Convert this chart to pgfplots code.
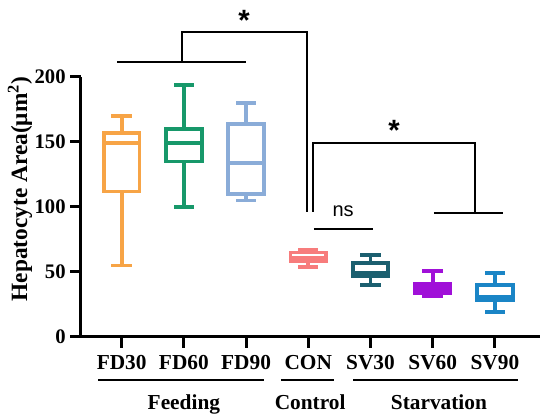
\documentclass[border=0pt]{standalone}
\usepackage{fontspec}
\setmainfont{Liberation Serif}
\newfontfamily\arial{Liberation Sans}
\usepackage{pgfplots}
\pgfplotsset{compat=1.18}

\definecolor{cFDa}{HTML}{F7A446}
\definecolor{cFDb}{HTML}{17986A}
\definecolor{cFDc}{HTML}{8AACD8}
\definecolor{cCON}{HTML}{F77C7C}
\definecolor{cSVa}{HTML}{1B5F6F}
\definecolor{cSVb}{HTML}{A010D8}
\definecolor{cSVc}{HTML}{1A85C6}

\pgfplotsset{bx/.style={draw=#1, line width=2.8pt, line join=miter, line cap=rect, mark=none}}

\begin{document}
\begin{tikzpicture}
% 1px of the reference = 0.75pt; axis box lower left at (0,0)
\useasboundingbox (-60.75pt,-62.25pt) rectangle (351.75pt,252.75pt);
\begin{axis}[
    at={(0,0)}, anchor=south west,
    scale only axis,
    width=344.25pt, height=195pt,
    xmin=0.346, xmax=7.725,
    ymin=0, ymax=200,
    axis x line=bottom, axis y line=left,
    axis line style={line width=2.25pt, -},
    xtick={1,2,3,4,5,6,7},
    xticklabels={FD30,FD60,FD90,CON,SV30,SV60,SV90},
    ytick={0,50,100,150,200},
    tick align=outside,
    major tick length=8pt,
    tick style={line width=2.25pt, black},
    xticklabel style={font=\fontsize{16}{18}\selectfont\bfseries, yshift=-2pt},
    yticklabel style={font=\fontsize{15.5}{18}\selectfont\bfseries},
    /pgf/number format/assume math mode=true,
    clip=false,
    unbounded coords=jump,
]
% each box: box outline, median, upper whisker, upper cap, lower whisker, lower cap
% FD30
\addplot[bx=cFDa] coordinates {(0.713,112)(1.287,112)(1.287,157)(0.713,157)(0.713,112) (1,nan) (0.713,149)(1.287,149) (1,nan) (1,157)(1,170) (1,nan) (0.866,170)(1.134,170) (1,nan) (1,112)(1,55) (1,nan) (0.866,55)(1.134,55)};
% FD60
\addplot[bx=cFDb] coordinates {(1.713,135)(2.287,135)(2.287,160)(1.713,160)(1.713,135) (2,nan) (1.713,149)(2.287,149) (2,nan) (2,160)(2,194) (2,nan) (1.866,194)(2.134,194) (2,nan) (2,135)(2,100) (2,nan) (1.866,100)(2.134,100)};
% FD90
\addplot[bx=cFDc] coordinates {(2.713,110)(3.287,110)(3.287,164)(2.713,164)(2.713,110) (3,nan) (2.713,134)(3.287,134) (3,nan) (3,164)(3,180) (3,nan) (2.866,180)(3.134,180) (3,nan) (3,110)(3,105) (3,nan) (2.866,105)(3.134,105)};
% CON
\addplot[bx=cCON] coordinates {(3.713,58.5)(4.287,58.5)(4.287,65)(3.713,65)(3.713,58.5) (4,nan) (3.713,60.5)(4.287,60.5) (4,nan) (4,65)(4,67) (4,nan) (3.866,67)(4.134,67) (4,nan) (4,58.5)(4,54) (4,nan) (3.866,54)(4.134,54)};
% SV30
\addplot[bx=cSVa] coordinates {(4.713,46.5)(5.287,46.5)(5.287,57)(4.713,57)(4.713,46.5) (5,nan) (4.713,49)(5.287,49) (5,nan) (5,57)(5,63) (5,nan) (4.866,63)(5.134,63) (5,nan) (5,46.5)(5,40) (5,nan) (4.866,40)(5.134,40)};
% SV60 (box filled)
\addplot[fill=cSVb, draw=none, mark=none] coordinates {(5.713,34)(6.287,34)(6.287,40.5)(5.713,40.5)(5.713,34)};
\addplot[bx=cSVb] coordinates {(5.713,34)(6.287,34)(6.287,40.5)(5.713,40.5)(5.713,34) (6,nan) (5.713,37)(6.287,37) (6,nan) (6,40.5)(6,51) (6,nan) (5.866,51)(6.134,51) (6,nan) (6,34)(6,31.5) (6,nan) (5.866,31.5)(6.134,31.5)};
% SV90
\addplot[bx=cSVc] coordinates {(6.713,28)(7.287,28)(7.287,40)(6.713,40)(6.713,28) (7,nan) (6.713,31)(7.287,31) (7,nan) (7,40)(7,49.5) (7,nan) (6.866,49.5)(7.134,49.5) (7,nan) (7,28)(7,19.5) (7,nan) (6.866,19.5)(7.134,19.5)};

% significance brackets
\draw[line width=1.8pt] (axis cs:0.926,211.5) -- (axis cs:2.998,211.5);
\draw[line width=1.8pt, line join=miter] (axis cs:1.969,211.5) -- (axis cs:1.969,234.6) -- (axis cs:3.979,234.6) -- (axis cs:3.979,96.2);
\node[anchor=north, inner sep=0pt, font=\arial\fontsize{22}{24}\selectfont\bfseries] at (axis cs:2.966,251.5) {*};
\draw[line width=1.8pt, line join=miter] (axis cs:4.075,96.2) -- (axis cs:4.075,149.2) -- (axis cs:6.68,149.2) -- (axis cs:6.68,95.4);
\draw[line width=1.8pt] (axis cs:6.02,95.4) -- (axis cs:7.13,95.4);
\node[anchor=north, inner sep=0pt, font=\arial\fontsize{22}{24}\selectfont\bfseries] at (axis cs:5.38,166.9) {*};
\draw[line width=1.8pt] (axis cs:4.09,83) -- (axis cs:5.04,83);
\node[anchor=base, inner sep=0pt, font=\arial\fontsize{15}{18}\selectfont] at (axis cs:4.56,92.5) {ns};

% group labels under the categories
\draw[line width=1.8pt] (axis cs:0.62,-33.1) -- (axis cs:3.29,-33.1);
\draw[line width=1.8pt] (axis cs:3.56,-33.1) -- (axis cs:4.41,-33.1);
\draw[line width=1.8pt] (axis cs:4.72,-33.1) -- (axis cs:7.37,-33.1);
\node[anchor=base, inner sep=0pt, font=\fontsize{16}{18}\selectfont\bfseries] at (axis cs:2.0,-55.4) {Feeding};
\node[anchor=base, inner sep=0pt, font=\fontsize{16}{18}\selectfont\bfseries] at (axis cs:4.03,-55.4) {Control};
\node[anchor=base, inner sep=0pt, font=\fontsize{16}{18}\selectfont\bfseries] at (axis cs:6.10,-55.4) {Starvation};

% y label
\node[rotate=90, inner sep=0pt, font=\fontsize{17.5}{20}\selectfont\bfseries] at (axis cs:-0.635,113.8) {Hepatocyte Area(μm\textsuperscript{2})};
\end{axis}
\end{tikzpicture}
\end{document}
